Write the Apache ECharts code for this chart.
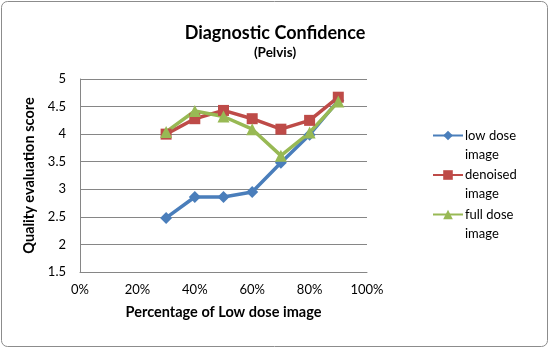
<!DOCTYPE html>
<html><head><meta charset="utf-8">
<script src="https://cdn.jsdelivr.net/npm/echarts@6/dist/echarts.min.js"></script>
<style>html,body{margin:0;padding:0;background:#fff}#c{width:550px;height:349px}</style>
</head><body><div id="c"></div>
<script>
const xValues = [30, 40, 50, 60, 70, 80, 90];
const lowDose = [2.48, 2.86, 2.86, 2.95, 3.48, 3.99, 4.61];
const denoised = [4.0, 4.28, 4.43, 4.28, 4.09, 4.25, 4.67];
const fullDose = [4.04, 4.42, 4.32, 4.09, 3.61, 4.03, 4.59];
const seriesNames = ['low dose image', 'denoised image', 'full dose image'];
const colors = ['#4A7EBB', '#BE4B48', '#98B954'];
const symbols = ['diamond', 'rect', 'triangle'];
const font = 'Lato, "Open Sans", sans-serif';

const chart = echarts.init(document.getElementById('c'));
const datasets = [lowDose, denoised, fullDose];
chart.setOption({
  animation: false,
  textStyle: {fontFamily: font},
  graphic: [{type: 'rect', shape: {x: 1.5, y: 1.5, width: 546, height: 345, r: 6}, style: {fill: 'none', stroke: '#8c8c8c', lineWidth: 1}}],
  title: {
    text: 'Diagnostic Confidence', subtext: '(Pelvis)', left: 'center', top: 19, itemGap: 4,
    textStyle: {fontFamily: font, fontSize: 18, fontWeight: 'bold', color: '#000'},
    subtextStyle: {fontFamily: font, fontSize: 13.5, fontWeight: 'bold', color: '#000'}
  },
  legend: {
    orient: 'vertical', left: 427, top: 121, itemGap: 1.5, itemWidth: 30, itemHeight: 12,
    data: seriesNames,
    formatter: n => { const p = n.split(' image'); return '{a|' + p[0] + '}\n{a|image}'; },
    textStyle: {fontFamily: font, fontSize: 13, color: '#000', padding: [19, 0, 0, -3],
      rich: {a: {fontFamily: font, fontSize: 13, color: '#000', lineHeight: 19, height: 19}}}
  },
  grid: {left: 80, right: 183, top: 79, bottom: 77},
  xAxis: {
    type: 'value', min: 0, max: 100, interval: 20,
    name: 'Percentage of Low dose image', nameLocation: 'middle', nameGap: 33,
    nameTextStyle: {fontFamily: font, fontSize: 14.5, fontWeight: 'bold', color: '#000'},
    axisLine: {lineStyle: {color: '#868686'}},
    axisTick: {show: false},
    axisLabel: {formatter: v => v + '%', color: '#000', fontSize: 13, margin: 11},
    splitLine: {show: false}
  },
  yAxis: {
    type: 'value', min: 1.5, max: 5, interval: 0.5,
    name: 'Quality evaluation score', nameLocation: 'middle', nameGap: 34,
    nameTextStyle: {fontFamily: font, fontSize: 14.5, fontWeight: 'bold', color: '#000'},
    axisLine: {show: true, lineStyle: {color: '#868686'}},
    axisTick: {show: false},
    axisLabel: {color: '#000', fontSize: 13, margin: 14},
    splitLine: {lineStyle: {color: '#868686'}}
  },
  series: datasets.map((d, i) => ({
    name: seriesNames[i], type: 'line',
    data: xValues.map((x, j) => [x, d[j]]),
    symbol: symbols[i], symbolSize: i === 1 ? 11 : 12,
    lineStyle: {color: colors[i], width: 3.5},
    itemStyle: {color: colors[i]}
  }))
});
</script></body></html>
